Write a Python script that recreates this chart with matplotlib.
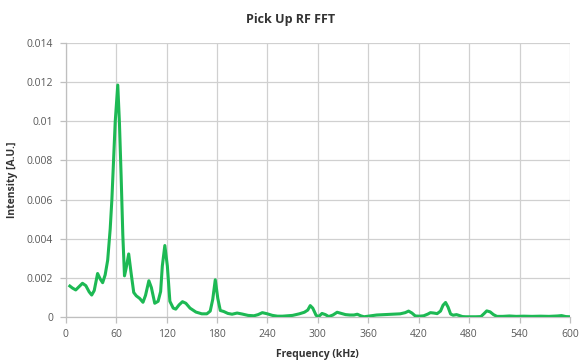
import matplotlib
matplotlib.use("Agg")
import matplotlib.pyplot as plt

freq_khz = [5, 8, 12, 16, 20, 24, 28, 31, 34, 38, 41, 44, 47, 50, 53, 55, 57, 59, 62, 64, 66, 68, 70, 72, 75, 78, 81, 84, 88, 92, 95, 99, 102, 106, 110, 113, 115, 118, 121, 124, 128, 131, 135, 139, 143, 148, 155, 162, 168, 172, 175, 178, 181, 184, 188, 193, 198, 204, 210, 217, 224, 229, 234, 240, 246, 252, 258, 264, 270, 278, 284, 288, 291, 294, 298, 301, 305, 309, 313, 318, 323, 328, 333, 338, 343, 347, 351, 355, 362, 370, 380, 390, 398, 404, 408, 412, 416, 421, 426, 431, 434, 438, 442, 446, 449, 452, 455, 458, 461, 465, 468, 472, 476, 482, 488, 494, 498, 501, 505, 509, 513, 520, 528, 536, 545, 555, 565, 575, 585, 590, 595, 600]
intensity = [0.00158, 0.00148, 0.00138, 0.00155, 0.00172, 0.00160, 0.00128, 0.00112, 0.00135, 0.00222, 0.00195, 0.00175, 0.00215, 0.00290, 0.00450, 0.00600, 0.00800, 0.01000, 0.01185, 0.00990, 0.00720, 0.00420, 0.00210, 0.00250, 0.00322, 0.00220, 0.00125, 0.00108, 0.00095, 0.00075, 0.00110, 0.00185, 0.00150, 0.00070, 0.00080, 0.00130, 0.00260, 0.00365, 0.00260, 0.00080, 0.00045, 0.00040, 0.00062, 0.00078, 0.00070, 0.00045, 0.00025, 0.00016, 0.00016, 0.00030, 0.00090, 0.00190, 0.00095, 0.00033, 0.00028, 0.00018, 0.00014, 0.00020, 0.00015, 0.00008, 0.00006, 0.00012, 0.00022, 0.00016, 0.00008, 0.00004, 0.00004, 0.00006, 0.00008, 0.00016, 0.00024, 0.00035, 0.00058, 0.00045, 0.00008, 0.00002, 0.00018, 0.00012, 0.00002, 0.00010, 0.00024, 0.00018, 0.00012, 0.00010, 0.00010, 0.00014, 0.00006, 0.00001, 0.00005, 0.00010, 0.00012, 0.00014, 0.00016, 0.00022, 0.00030, 0.00020, 0.00005, 0.00004, 0.00006, 0.00015, 0.00022, 0.00020, 0.00017, 0.00030, 0.00060, 0.00074, 0.00050, 0.00015, 0.00009, 0.00012, 0.00008, 0.00002, 0.00001, 0.00001, 0.00001, 0.00002, 0.00018, 0.00031, 0.00026, 0.00012, 0.00003, 0.00003, 0.00005, 0.00003, 0.00004, 0.00003, 0.00004, 0.00003, 0.00005, 0.00007, 0.00002, 0.00001]

x_ticks = [0, 60, 120, 180, 240, 300, 360, 420, 480, 540, 600]
y_ticks = [0, 0.002, 0.004, 0.006, 0.008, 0.010, 0.012, 0.014]
y_tick_labels = ["0", "0.002", "0.004", "0.006", "0.008", "0.01", "0.012", "0.014"]

plt.rcParams['font.family'] = ['Open Sans', 'DejaVu Sans']

fig = plt.figure(figsize=(5.81, 3.61), dpi=100)
ax = fig.add_axes([0.113, 0.122, 0.868, 0.759])

ax.plot(freq_khz, intensity, color="#1db954", linewidth=2.2, solid_joinstyle="round", zorder=3)

ax.set_xlim(0, 600)
ax.set_ylim(0, 0.014)
ax.set_xticks(x_ticks)
ax.set_yticks(y_ticks)
ax.set_yticklabels(y_tick_labels)

ax.grid(True, color="#d0d0d0", linewidth=0.9)
ax.set_axisbelow(True)
for s in ["top", "right"]:
    ax.spines[s].set_visible(False)
for s in ["left", "bottom"]:
    ax.spines[s].set_color("#bfbfbf")
    ax.spines[s].set_linewidth(0.9)
ax.tick_params(axis="both", colors="#bfbfbf", labelcolor="#595959", labelsize=7.5, length=4, width=0.9)
ax.tick_params(axis="y", pad=5)
ax.tick_params(axis="x", pad=5)

ax.set_xlabel("Frequency (kHz)", fontsize=7.5, fontweight="bold", color="#333333", labelpad=6)
ax.set_ylabel("Intensity [A.U.]", fontsize=7.5, fontweight="bold", color="#333333", labelpad=6)
fig.suptitle("Pick Up RF FFT", fontsize=9, fontweight="bold", color="#333333", y=0.965)

fig.savefig("out.png", dpi=100)
